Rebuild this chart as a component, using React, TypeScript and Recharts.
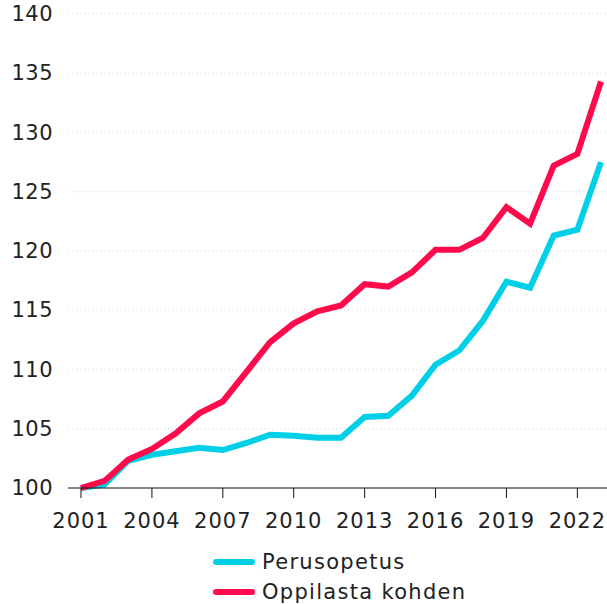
import { LineChart, Line, XAxis, YAxis, CartesianGrid } from "recharts";

const years = [
  2001, 2002, 2003, 2004, 2005, 2006, 2007, 2008, 2009, 2010, 2011, 2012,
  2013, 2014, 2015, 2016, 2017, 2018, 2019, 2020, 2021, 2022, 2023,
];
const perusopetus = [
  100, 100.3, 102.3, 102.8, 103.1, 103.4, 103.2, 103.8, 104.5, 104.4, 104.25,
  104.25, 106.0, 106.1, 107.8, 110.4, 111.6, 114.1, 117.4, 116.9, 121.3, 121.8,
  127.5,
];
const oppilastaKohden = [
  100, 100.6, 102.4, 103.3, 104.6, 106.3, 107.3, 109.8, 112.3, 113.9, 114.9,
  115.4, 117.2, 117.0, 118.2, 120.1, 120.1, 121.1, 123.7, 122.3, 127.2, 128.2,
  134.3,
];
const xTicks = [2001, 2004, 2007, 2010, 2013, 2016, 2019, 2022];
const yTicks = [100, 105, 110, 115, 120, 125, 130, 135, 140];
const seriesNames = ["Perusopetus", "Oppilasta kohden"];

const data = years.map((year, i) => ({
  year,
  perusopetus: perusopetus[i],
  oppilasta: oppilastaKohden[i],
}));

const CYAN = "#00cfe8";
const RED = "#ff0a4b";
const FONT = "DejaVu Sans";

const YTick = ({ y, payload }: any) => (
  <text
    x={53}
    y={y}
    dy={7}
    textAnchor="end"
    fontSize={21}
    fill="#222"
    fontFamily={FONT}
    letterSpacing={0.5}
  >
    {payload.value}
  </text>
);

const LegendBox = () => (
  <div
    style={{
      position: "absolute",
      left: 213,
      top: 547,
      fontFamily: FONT,
      fontSize: 21,
      color: "#222",
      letterSpacing: 1.3,
    }}
  >
    {[CYAN, RED].map((color, i) => (
      <div key={color} style={{ display: "flex", alignItems: "center", height: 30 }}>
        <span
          style={{
            display: "inline-block",
            width: 42,
            height: 6,
            borderRadius: 3,
            background: color,
            marginRight: 7,
          }}
        />
        {seriesNames[i]}
      </div>
    ))}
  </div>
);

export default function App() {
  return (
    <div
      style={{
        position: "absolute",
        left: 0,
        top: 0,
        width: 607,
        height: 604,
        background: "#fff",
        overflow: "hidden",
      }}
    >
      <LineChart
        width={607}
        height={604}
        data={data}
        margin={{ top: 14, right: 0, left: 0, bottom: 76 }}
      >
        <CartesianGrid vertical={false} stroke="#d8d8d8" strokeDasharray="1 3" />
        <XAxis
          dataKey="year"
          type="number"
          domain={[2001, 2023]}
          ticks={xTicks}
          padding={{ left: 13, right: 6 }}
          height={40}
          stroke="#111"
          tickSize={10}
          tickMargin={15}
          tick={{ fontSize: 21, fill: "#222", fontFamily: FONT, letterSpacing: 1 }}
        />
        <YAxis
          domain={[100, 140]}
          ticks={yTicks}
          width={68}
          axisLine={false}
          tickLine={false}
          tick={<YTick />}
        />
        <Line
          dataKey="perusopetus"
          stroke={CYAN}
          strokeWidth={6}
          dot={false}
          isAnimationActive={false}
        />
        <Line
          dataKey="oppilasta"
          stroke={RED}
          strokeWidth={6}
          dot={false}
          isAnimationActive={false}
        />
      </LineChart>
      <LegendBox />
    </div>
  );
}
